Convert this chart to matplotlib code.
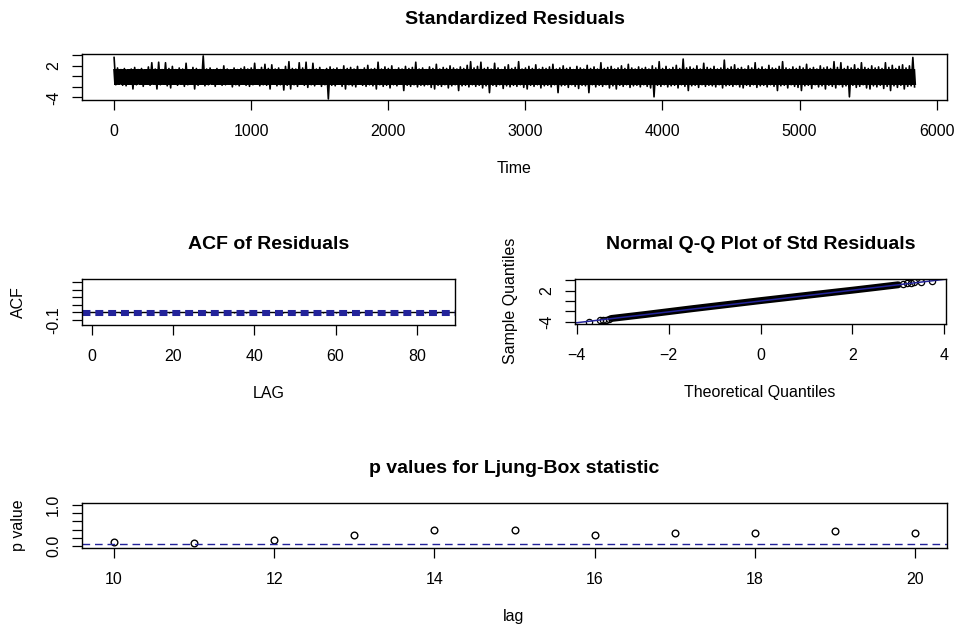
import numpy as np
import matplotlib
matplotlib.use("Agg")
import matplotlib.pyplot as plt
from matplotlib.patches import Rectangle

plt.rcParams['font.family'] = ['Liberation Sans', 'DejaVu Sans']

# standardized residuals: highs and lows of each 25-step block
resid_step = 25
resid_hi = [
    3.6, 1.6, 1.3, 1.5, 1.2, 1.4, 1.7, 1.3, 1.5, 1.2, 1.8, 2.6, 1.4,
    2.7, 1.3, 2.6, 1.5, 1.9, 1.3, 1.6, 1.4, 2.5, 1.2, 1.7, 1.5, 1.3,
    3.9, 1.4, 1.6, 1.2, 1.5, 1.3, 2.0, 1.4, 1.2, 1.6, 1.3, 1.5, 1.8,
    1.4, 1.6, 2.5, 1.3, 1.7, 2.3, 1.5, 2.2, 1.4, 1.6, 1.3, 1.9, 2.8,
    1.5, 1.4, 2.6, 1.6, 2.7, 1.3, 2.5, 1.4, 1.7, 1.2, 1.5, 1.8, 1.4,
    1.6, 1.3, 2.0, 1.5, 1.7, 1.4, 1.9, 1.3, 1.6, 2.1, 1.4, 1.5, 2.7,
    1.4, 1.8, 1.5, 2.0, 1.3, 1.6, 1.4, 1.9, 1.5, 1.7, 2.7, 1.4, 1.6,
    1.3, 1.8, 1.5, 2.3, 1.4, 1.7, 1.5, 2.0, 1.6, 1.4, 1.8, 1.5, 2.1,
    2.8, 1.6, 1.9, 2.7, 1.5, 1.7, 1.4, 2.5, 1.6, 1.3, 1.8, 2.2, 1.5,
    1.7, 2.8, 1.4, 1.6, 1.9, 1.5, 2.2, 1.4, 1.7, 1.5, 1.8, 2.3, 1.4,
    1.6, 2.0, 1.5, 1.7, 1.3, 1.9, 1.6, 1.4, 2.1, 1.5, 1.8, 1.4, 2.6,
    1.5, 1.7, 1.9, 1.4, 1.6, 2.0, 1.5, 2.3, 1.6, 1.4, 1.8, 1.5, 1.7,
    1.4, 2.0, 1.6, 2.8, 1.5, 1.9, 1.4, 1.7, 2.1, 1.5, 3.3, 1.6, 1.8,
    1.5, 2.0, 1.4, 2.5, 1.7, 1.5, 1.9, 1.4, 1.6, 3.1, 1.5, 1.8, 2.2,
    1.5, 1.7, 1.4, 2.0, 1.6, 2.6, 1.5, 1.8, 1.4, 2.1, 1.6, 1.5, 1.9,
    2.8, 1.6, 1.4, 1.8, 1.5, 1.9, 1.6, 2.3, 1.5, 1.7, 1.4, 2.0, 1.6,
    1.8, 1.5, 2.8, 1.7, 2.6, 1.5, 1.9, 1.6, 2.2, 1.5, 2.6, 1.7, 1.5,
    2.0, 1.6, 1.8, 1.5, 2.6, 1.7, 2.1, 1.5, 1.9, 2.2, 1.6, 2.0, 3.6,
]
resid_lo = [
    -1.6, -1.4, -1.7, -1.8, -1.5, -2.4, -1.6, -1.4, -1.9, -1.5, -1.7, -1.4, -2.4,
    -1.6, -1.5, -1.8, -2.2, -1.5, -1.7, -1.4, -1.9, -1.6, -1.5, -2.4, -1.7, -1.5,
    -1.8, -1.6, -1.4, -1.9, -1.5, -1.7, -1.6, -1.5, -2.0, -1.6, -1.8, -1.5, -1.7,
    -1.9, -1.6, -1.5, -1.8, -1.6, -1.7, -2.4, -1.5, -1.8, -1.6, -2.6, -1.7, -2.4,
    -1.6, -1.9, -1.5, -1.7, -2.1, -1.6, -1.8, -1.5, -1.9, -1.6, -4.3, -1.7, -1.8,
    -1.5, -1.9, -2.4, -1.6, -1.8, -2.0, -1.5, -1.7, -1.9, -1.6, -1.8, -2.4, -1.6,
    -1.9, -1.7, -2.2, -1.6, -1.8, -1.5, -2.7, -1.7, -1.9, -1.6, -2.0, -1.7, -1.8,
    -1.6, -2.1, -2.4, -1.7, -1.9, -1.6, -2.2, -1.8, -1.6, -2.7, -1.8, -1.7, -2.0,
    -1.6, -1.9, -1.7, -2.2, -1.8, -3.1, -1.7, -1.9, -1.6, -2.3, -1.8, -2.0, -1.7,
    -1.9, -1.6, -2.1, -2.4, -1.7, -1.9, -1.6, -2.2, -1.8, -1.7, -2.0, -1.6, -3.1,
    -1.8, -1.7, -2.1, -1.6, -1.9, -2.3, -1.7, -1.8, -3.1, -1.6, -2.0, -1.7, -1.9,
    -1.6, -2.2, -1.8, -2.4, -1.7, -1.9, -1.6, -2.1, -1.8, -1.7, -2.0, -1.6, -1.9,
    -2.2, -3.9, -1.7, -1.9, -1.6, -2.0, -1.8, -1.7, -2.2, -1.6, -1.9, -2.7, -1.8,
    -1.7, -2.1, -1.6, -1.9, -1.7, -1.8, -2.0, -1.6, -2.2, -1.8, -1.7, -1.9, -1.6,
    -2.0, -2.2, -1.7, -1.9, -1.6, -2.1, -1.8, -1.7, -2.0, -1.6, -1.9, -2.7, -1.8,
    -1.7, -2.2, -1.6, -1.9, -2.1, -2.7, -1.8, -1.7, -2.3, -1.6, -2.0, -1.8, -2.4,
    -1.7, -1.9, -2.2, -1.6, -2.0, -1.8, -3.9, -1.7, -2.1, -1.9, -1.6, -2.2, -2.4,
    -1.8, -2.0, -1.7, -2.3, -1.9, -2.7, -1.8, -2.1, -1.7, -2.4, -1.9, -1.8, -2.0,
]

# sample ACF of the residuals, lags 1..86
acf_vals = [
    0.010, -0.004, 0.006, 0.003, -0.005, 0.008, -0.002, 0.004, -0.006, 0.005,
    0.002, -0.003, 0.007, -0.004, 0.009, 0.003, -0.005, 0.004, -0.002, 0.006,
    -0.004, 0.003, 0.005, -0.006, 0.002, 0.004, -0.003, 0.022, 0.006, -0.004,
    0.003, 0.005, -0.002, 0.004, -0.005, 0.006, 0.002, -0.004, 0.003, -0.006,
    0.005, 0.002, -0.003, 0.004, -0.005, 0.006, -0.002, 0.003, 0.005, -0.004,
    0.002, 0.004, -0.006, 0.003, 0.018, 0.005, -0.003, 0.004, -0.002, -0.005,
    0.003, 0.006, -0.004, 0.002, 0.005, -0.003, 0.004, -0.006, 0.003, 0.002,
    -0.004, -0.015, 0.005, 0.003, -0.002, 0.004, -0.005, 0.006, 0.002, -0.003,
    0.004, -0.006, 0.003, 0.005, -0.002, 0.004,
]
n_obs = 5845
acf_bound = 2 / np.sqrt(n_obs)

# normal Q-Q: sparse tails and the dense middle stretch
qq_low_theo = [-3.73, -3.50, -3.42, -3.36, -3.30]
qq_low_samp = [-4.05, -3.75, -3.68, -3.62, -3.45]
qq_mid_theo = [-3.25, -2.5, -1.5, 0.0, 1.5, 2.0, 2.5, 3.0]
qq_mid_samp = [-3.38, -2.6, -1.5, 0.08, 1.6, 2.1, 2.62, 3.15]
qq_high_theo = [3.10, 3.20, 3.28, 3.35, 3.50, 3.73]
qq_high_samp = [3.25, 3.45, 3.55, 3.60, 3.70, 3.90]
qq_intercept = 0.0
qq_slope = 1.05

# Ljung-Box p-values
lb_lags = [10, 11, 12, 13, 14, 15, 16, 17, 18, 19, 20]
lb_pvals = [0.10, 0.08, 0.15, 0.26, 0.38, 0.40, 0.26, 0.31, 0.33, 0.36, 0.31]

W, H = 956, 627
BLUE = '#23239a'
LAB = 11.5
TTL = 14


def rect(x0, y0, x1, y1):
    return [x0 / W, 1 - y1 / H, (x1 - x0) / W, (y1 - y0) / H]


def fpos(x, y):
    return x / W, 1 - y / H


def style(ax, xticks, yticks, ylabels):
    for s in ax.spines.values():
        s.set_linewidth(1.0)
        s.set_color('black')
    ax.set_xticks(xticks)
    ax.set_yticks(yticks)
    ax.set_yticklabels(ylabels, rotation=90, va='center')
    ax.tick_params(length=7, width=0.9, labelsize=LAB, pad=10.5)
    ax.tick_params(axis='y', pad=8)


fig = plt.figure(figsize=(W / 100, H / 100), dpi=100)

# Standardized residuals
ax1 = fig.add_axes(rect(82, 54, 947, 100))
t_hi = 1 + resid_step * np.arange(len(resid_hi))
xs = np.empty(2 * len(resid_hi))
ys = np.empty(2 * len(resid_hi))
xs[0::2] = t_hi
xs[1::2] = t_hi + resid_step / 2
ys[0::2] = resid_hi
ys[1::2] = resid_lo
# thin trace shows the spikes, a heavier copy fills the dense middle
ax1.plot(xs, ys, color='black', lw=1.2)
core, = ax1.plot(xs, ys, color='black', lw=2.4)
core.set_clip_path(Rectangle((-300, -1.6), 6500, 2.95, transform=ax1.transData))
ax1.set_xlim(-233, 6075)
ax1.set_ylim(-4.5, 4.26)
style(ax1, np.arange(0, 6001, 1000), [-4, -2, 0, 2, 4], ['-4', '', '', '2', ''])
ax1.set_title('Standardized Residuals', fontsize=TTL, fontweight='bold', pad=21.6)
fig.text(*fpos(514, 168), 'Time', ha='center', va='center', fontsize=LAB)

# ACF of residuals
ax2 = fig.add_axes(rect(82, 279, 455, 325))
lags = np.arange(1, len(acf_vals) + 1)
ax2.vlines(lags, 0, acf_vals, color='black', lw=1.0)
ax2.axhline(0, color='black', lw=1.0)
ax2.axhline(acf_bound, color=BLUE, lw=2.2, ls=(0, (2.6, 1.6)))
ax2.axhline(-acf_bound, color=BLUE, lw=2.2, ls=(0, (2.6, 1.6)))
ax2.set_xlim(-2.4, 89.4)
ax2.set_ylim(-0.166, 0.444)
style(ax2, np.arange(0, 81, 20), [-0.1, 0.0, 0.1, 0.2, 0.3, 0.4],
      ['-0.1', '', '', '', '', ''])
ax2.set_title('ACF of Residuals', fontsize=TTL, fontweight='bold', pad=21.6)
fig.text(*fpos(268.5, 393), 'LAG', ha='center', va='center', fontsize=LAB)
fig.text(*fpos(18, 302), 'ACF', ha='center', va='center', rotation=90, fontsize=LAB)

# Normal Q-Q plot
ax3 = fig.add_axes(rect(575, 279, 946, 324))
ax3.plot(qq_mid_theo, qq_mid_samp, color='black', lw=5.0, solid_capstyle='round')
ax3.plot(qq_low_theo + qq_high_theo, qq_low_samp + qq_high_samp, 'o',
         mfc='none', mec='black', ms=4.5, mew=0.9)
qx = np.array([-4.2, 4.2])
ax3.plot(qx, qq_intercept + qq_slope * qx, color=BLUE, lw=1.1)
ax3.set_xlim(-4.04, 4.04)
ax3.set_ylim(-4.45, 4.27)
style(ax3, [-4, -2, 0, 2, 4], [-4, -2, 0, 2, 4], ['-4', '', '', '2', ''])
ax3.set_title('Normal Q-Q Plot of Std Residuals', fontsize=TTL, fontweight='bold', pad=21.6)
fig.text(*fpos(760, 393), 'Theoretical Quantiles', ha='center', va='center', fontsize=LAB)
fig.text(*fpos(510, 301), 'Sample Quantiles', ha='center', va='center', rotation=90, fontsize=LAB)

# Ljung-Box p-values
ax4 = fig.add_axes(rect(82, 503, 947, 548))
ax4.plot(lb_lags, lb_pvals, 'o', mfc='none', mec='black', ms=4.8, mew=1.0)
ax4.axhline(0.05, color=BLUE, lw=1.0, ls=(0, (5.5, 3.5)))
ax4.set_xlim(9.6, 20.4)
ax4.set_ylim(-0.04, 1.04)
style(ax4, np.arange(10, 21, 2), [0.0, 0.2, 0.4, 0.6, 0.8, 1.0],
      ['0.0', '', '', '', '', '1.0'])
ax4.set_title('p values for Ljung-Box statistic', fontsize=TTL, fontweight='bold', pad=21.6)
fig.text(*fpos(514, 617), 'lag', ha='center', va='center', fontsize=LAB)
fig.text(*fpos(18, 525), 'p value', ha='center', va='center', rotation=90, fontsize=LAB)

fig.savefig('out.png', dpi=100)
